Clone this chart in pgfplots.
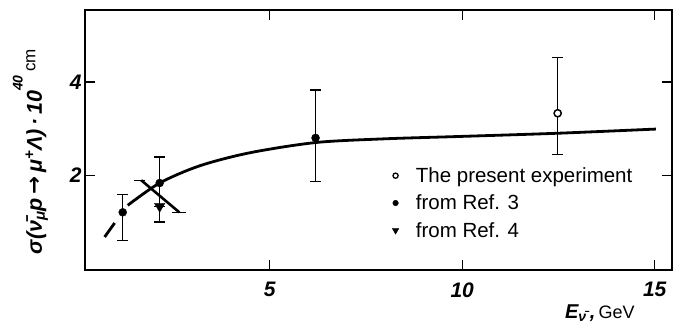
\documentclass[border=0pt]{standalone}
\usepackage{fontspec}
\setmainfont{Liberation Sans}
\newfontfamily\dejavu{DejaVu Sans}
\usepackage{pgfplots}
\pgfplotsset{compat=1.18}
\begin{document}
\begin{tikzpicture}
\begin{axis}[
  scale only axis, width=587pt, height=260pt,
  xmin=0.2, xmax=15.45, ymin=-0.04, ymax=5.55,
  xtick={5,10,15}, ytick={2,4},
  tick align=inside, major tick length=10pt,
  axis line style={line width=1.6pt},
  tick style={line width=1.2pt, black},
  /pgf/number format/assume math mode=true,
  ticklabel style={font=\fontsize{21}{22}\selectfont\bfseries\itshape},
  xticklabel style={yshift=-9pt},
  clip=false,
  xlabel={{\fontsize{20}{22}\selectfont\bfseries\itshape E\textsubscript{ν̄}\,,}\,GeV},
  xlabel style={at={(axis description cs:0.877,-0.165)}, anchor=center, font=\fontsize{18}{20}\selectfont},
  ylabel={{\bfseries\itshape σ(ν̄\textsubscript{μ}p\,{\dejavu\bfseries →}\,μ\textsuperscript{+}Λ)\,·\,10}\raisebox{0.9em}{\fontsize{14}{15}\selectfont\bfseries\itshape 40}\,\raisebox{0.3em}{\fontsize{17}{18}\selectfont cm}},
  ylabel style={at={(axis description cs:-0.093,0.455)}, anchor=center, rotate=0, font=\fontsize{21.5}{22}\selectfont},
  legend style={at={(axis cs:8.1,1.40)}, anchor=west, draw=none, fill=none,
    font=\fontsize{20.5}{22}\selectfont, row sep=7pt, column sep=15pt},
  legend cell align=left,
]
% fitted curve
\addplot[line width=2.8pt, forget plot] coordinates {(0.71,0.67) (0.97,0.97)};
\addplot[line width=2.8pt, smooth, forget plot] coordinates {
  (1.31,1.35) (2.14,1.83) (3.18,2.20) (4.48,2.48) (6.19,2.70) (7.98,2.78) (9.9,2.83) (12.48,2.90) (15.03,2.99)};
% slanted bar
\addplot[line width=1.3pt, forget plot] coordinates {(1.48,1.89) (1.77,1.89)};
\addplot[line width=2.6pt, forget plot] coordinates {(1.66,1.89) (2.65,1.20)};
\addplot[line width=1.3pt, forget plot] coordinates {(2.47,1.20) (2.83,1.20)};
% Ref 3
\addplot[only marks, mark=*, mark size=4pt, black, forget plot,
  error bars/.cd, y dir=both, y explicit,
  error bar style={line width=1.3pt},
  error mark options={rotate=90, mark size=5.5pt, line width=1.3pt}]
  coordinates {
  (1.18,1.20) += (0,0.39) -= (0,0.60)
  (2.14,1.83) += (0,0.56) -= (0,0.50)
  (6.19,2.80) += (0,1.03) -= (0,0.93)
  };
% Ref 4
\addplot[only marks, mark=triangle*, mark size=6pt, mark options={rotate=180}, black, forget plot,
  error bars/.cd, y dir=minus, y explicit,
  error bar style={line width=1.3pt},
  error mark options={rotate=90, mark size=5.5pt, line width=1.3pt}]
  coordinates {(2.14,1.33) -= (0,0.34)};
% present experiment
\addplot[only marks, mark=*, mark size=3.6pt, mark options={fill=white, line width=1.5pt}, black, forget plot,
  error bars/.cd, y dir=both, y explicit,
  error bar style={line width=1.3pt},
  error mark options={rotate=90, mark size=5.5pt, line width=1.3pt}]
  coordinates {(12.48,3.33) += (0,1.20) -= (0,0.88)};
\addlegendimage{only marks, mark=*, mark size=2.6pt, mark options={fill=white, line width=1.3pt}, black}
\addlegendentry{The present experiment}
\addlegendimage{only marks, mark=*, mark size=2.8pt, black}
\addlegendentry{from Ref. 3}
\addlegendimage{only marks, mark=triangle*, mark size=3.8pt, mark options={rotate=180}, black}
\addlegendentry{from Ref. 4}
\end{axis}
\pgfresetboundingbox
\useasboundingbox (-85pt,-58pt) rectangle (588pt,270pt);
\end{tikzpicture}
\end{document}
